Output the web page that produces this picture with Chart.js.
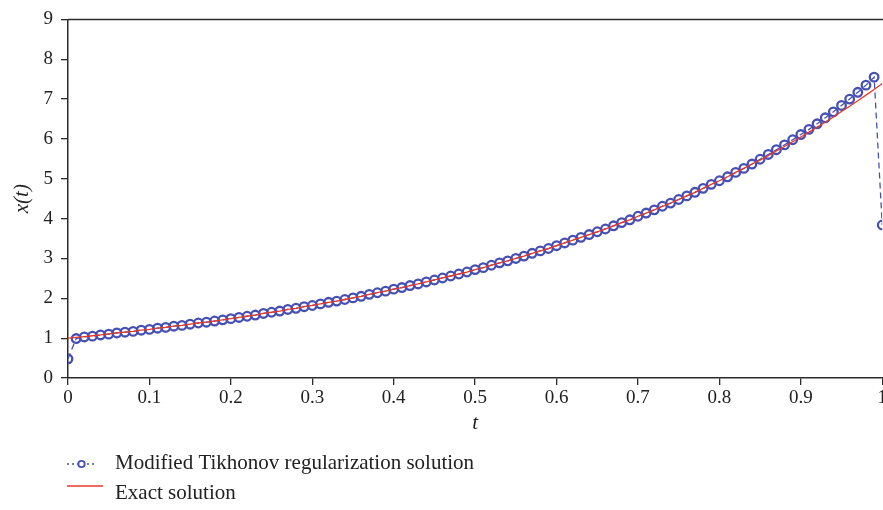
<!DOCTYPE html>
<html>
<head>
<meta charset="utf-8">
<script src="https://cdn.jsdelivr.net/npm/chart.js@4.4.0/dist/chart.umd.min.js"></script>
<style>
    html, body { margin: 0; padding: 0; background: #fff; }
    #wrap { width: 883px; height: 510px; overflow: hidden; }
</style>
</head>
<body>
<div id="wrap"><canvas id="myChart" width="889" height="510"></canvas></div>
<script>
// t grid, step 0.01
const tValues = [
    0.00, 0.01, 0.02, 0.03, 0.04, 0.05, 0.06, 0.07, 0.08, 0.09,
    0.10, 0.11, 0.12, 0.13, 0.14, 0.15, 0.16, 0.17, 0.18, 0.19,
    0.20, 0.21, 0.22, 0.23, 0.24, 0.25, 0.26, 0.27, 0.28, 0.29,
    0.30, 0.31, 0.32, 0.33, 0.34, 0.35, 0.36, 0.37, 0.38, 0.39,
    0.40, 0.41, 0.42, 0.43, 0.44, 0.45, 0.46, 0.47, 0.48, 0.49,
    0.50, 0.51, 0.52, 0.53, 0.54, 0.55, 0.56, 0.57, 0.58, 0.59,
    0.60, 0.61, 0.62, 0.63, 0.64, 0.65, 0.66, 0.67, 0.68, 0.69,
    0.70, 0.71, 0.72, 0.73, 0.74, 0.75, 0.76, 0.77, 0.78, 0.79,
    0.80, 0.81, 0.82, 0.83, 0.84, 0.85, 0.86, 0.87, 0.88, 0.89,
    0.90, 0.91, 0.92, 0.93, 0.94, 0.95, 0.96, 0.97, 0.98, 0.99,
    1.00
];

const exactValues = [
    1.00, 1.02, 1.04, 1.06, 1.08, 1.11, 1.13, 1.15, 1.17, 1.20,
    1.22, 1.25, 1.27, 1.30, 1.32, 1.35, 1.38, 1.40, 1.43, 1.46,
    1.49, 1.52, 1.55, 1.58, 1.62, 1.65, 1.68, 1.72, 1.75, 1.79,
    1.82, 1.86, 1.90, 1.93, 1.97, 2.01, 2.05, 2.10, 2.14, 2.18,
    2.23, 2.27, 2.32, 2.36, 2.41, 2.46, 2.51, 2.56, 2.61, 2.66,
    2.72, 2.77, 2.83, 2.89, 2.94, 3.00, 3.06, 3.13, 3.19, 3.25,
    3.32, 3.39, 3.46, 3.53, 3.60, 3.67, 3.74, 3.82, 3.90, 3.97,
    4.06, 4.14, 4.22, 4.31, 4.39, 4.48, 4.57, 4.66, 4.76, 4.86,
    4.95, 5.05, 5.16, 5.26, 5.37, 5.47, 5.58, 5.70, 5.81, 5.93,
    6.05, 6.17, 6.30, 6.42, 6.55, 6.69, 6.82, 6.96, 7.10, 7.24,
    7.39
];

const tikhonovValues = [
    0.48, 0.99, 1.03, 1.05, 1.08, 1.10, 1.13, 1.15, 1.17, 1.20,
    1.22, 1.25, 1.27, 1.30, 1.32, 1.35, 1.38, 1.40, 1.43, 1.46,
    1.49, 1.52, 1.55, 1.58, 1.62, 1.65, 1.68, 1.72, 1.75, 1.79,
    1.82, 1.86, 1.90, 1.93, 1.97, 2.01, 2.05, 2.10, 2.14, 2.18,
    2.23, 2.27, 2.32, 2.36, 2.41, 2.46, 2.51, 2.56, 2.61, 2.66,
    2.72, 2.77, 2.83, 2.89, 2.94, 3.00, 3.06, 3.13, 3.19, 3.25,
    3.32, 3.39, 3.46, 3.53, 3.60, 3.67, 3.74, 3.82, 3.90, 3.97,
    4.06, 4.14, 4.22, 4.31, 4.39, 4.48, 4.57, 4.66, 4.76, 4.86,
    4.95, 5.05, 5.16, 5.26, 5.37, 5.49, 5.61, 5.73, 5.85, 5.98,
    6.11, 6.24, 6.38, 6.53, 6.68, 6.84, 7.00, 7.17, 7.35, 7.55,
    3.84
];

const xTicks = [0, 0.1, 0.2, 0.3, 0.4, 0.5, 0.6, 0.7, 0.8, 0.9, 1];
const yTicks = [0, 1, 2, 3, 4, 5, 6, 7, 8, 9];
const seriesNames = ['Modified Tikhonov regularization solution', 'Exact solution'];

const blue = '#4650B2';
const red = '#E8382B';
const axisColor = '#2b2b2b';
const serif = "'Liberation Serif', 'DejaVu Serif', serif";

function points(ys) {
    return tValues.map((t, i) => ({ x: t, y: ys[i] }));
}

// top frame line + legend below the axes
const framePlugin = {
    id: 'framePlugin',
    afterDraw(chart) {
        const ctx = chart.ctx;
        const area = chart.chartArea;
        ctx.save();
        ctx.strokeStyle = axisColor;
        ctx.lineWidth = 1.5;
        ctx.beginPath();
        ctx.moveTo(area.left, area.top);
        ctx.lineTo(chart.width, area.top);
        ctx.stroke();

        // legend item 1
        ctx.strokeStyle = blue;
        ctx.lineWidth = 1.3;
        ctx.setLineDash([2, 3]);
        ctx.beginPath();
        ctx.moveTo(67, 464);
        ctx.lineTo(95, 464);
        ctx.stroke();
        ctx.setLineDash([]);
        ctx.fillStyle = '#fff';
        ctx.lineWidth = 1.8;
        ctx.beginPath();
        ctx.arc(81.5, 464, 3.2, 0, Math.PI * 2);
        ctx.fill();
        ctx.stroke();

        // legend item 2
        ctx.strokeStyle = red;
        ctx.lineWidth = 1.3;
        ctx.beginPath();
        ctx.moveTo(67, 486);
        ctx.lineTo(103, 486);
        ctx.stroke();

        ctx.fillStyle = '#222';
        ctx.font = '21px ' + serif;
        ctx.textBaseline = 'middle';
        ctx.textAlign = 'left';
        ctx.fillText(seriesNames[0], 115, 463);
        ctx.fillText(seriesNames[1], 115, 493);
        ctx.restore();
    }
};

const myChart = document.getElementById('myChart');
new Chart(myChart, {
    type: 'line',
    data: {
        datasets: [{
            label: seriesNames[0],
            data: points(tikhonovValues),
            borderColor: blue,
            borderWidth: 1.3,
            borderDash: [6, 4],
            pointStyle: 'circle',
            pointRadius: 4.3,
            pointBorderWidth: 2.3,
            pointBorderColor: blue,
            pointBackgroundColor: 'rgba(255,255,255,0)',
            order: 1
        }, {
            label: seriesNames[1],
            data: points(exactValues),
            borderColor: red,
            borderWidth: 1.3,
            pointRadius: 0,
            order: 0
        }]
    },
    options: {
        responsive: false,
        animation: false,
        layout: { padding: { top: 4, left: 0, right: 0, bottom: 60 } },
        plugins: {
            legend: { display: false },
            tooltip: { enabled: false }
        },
        scales: {
            x: {
                type: 'linear',
                min: 0,
                max: 1,
                afterBuildTicks: (scale) => { scale.ticks = xTicks.map(v => ({ value: v })); },
                afterFit: (scale) => { scale.height = 72; },
                ticks: {
                    color: '#222',
                    font: { family: serif, size: 19 },
                    padding: 2,
                    maxRotation: 0,
                    callback: (v) => String(v)
                },
                grid: { drawOnChartArea: false, drawTicks: true, tickLength: 7, color: axisColor, lineWidth: 1.3 },
                border: { display: true, color: axisColor, width: 1.5 },
                title: {
                    display: true,
                    text: 't',
                    color: '#222',
                    font: { family: serif, size: 21, style: 'italic' },
                    padding: { top: 0, bottom: 14 }
                }
            },
            y: {
                min: 0,
                max: 9,
                afterBuildTicks: (scale) => { scale.ticks = yTicks.map(v => ({ value: v })); },
                afterFit: (scale) => { scale.width = 68; },
                ticks: {
                    color: '#222',
                    font: { family: serif, size: 19 },
                    padding: 8
                },
                grid: { drawOnChartArea: false, drawTicks: true, tickLength: 7, color: axisColor, lineWidth: 1.3 },
                border: { display: true, color: axisColor, width: 1.5 },
                title: {
                    display: true,
                    text: 'x(t)',
                    color: '#222',
                    font: { family: serif, size: 21, style: 'italic' },
                    padding: { top: 10, bottom: 0 }
                }
            }
        }
    },
    plugins: [framePlugin]
});
</script>
</body>
</html>
